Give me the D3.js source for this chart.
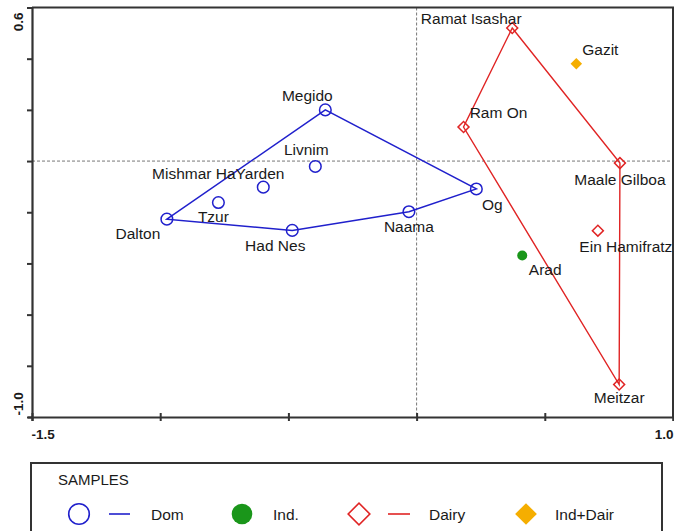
<!DOCTYPE html>
<html>
<head>
<meta charset="utf-8">
<script src="https://cdn.jsdelivr.net/npm/d3@7"></script>
<style>
  html, body { margin: 0; padding: 0; background: #fff; }
  svg { display: block; }
  text { font-family: "Liberation Sans", Arial, sans-serif; fill: #1a1a1a; }
</style>
</head>
<body>
<svg id="chart" width="674" height="531"></svg>
<script>
// Ordination scores (axis 1, axis 2) per sample, by group
const domNames = ["Megido", "Livnim", "Mishmar HaYarden", "Tzur", "Dalton", "Had Nes", "Naama", "Og"];
const domX = [-0.356, -0.395, -0.598, -0.773, -0.974, -0.485, -0.030, 0.233];
const domY = [0.200, -0.021, -0.102, -0.162, -0.227, -0.271, -0.198, -0.109];
const domHull = ["Dalton", "Megido", "Og", "Naama", "Had Nes"];

const dairyNames = ["Ramat Isashar", "Ram On", "Maale Gilboa", "Ein Hamifratz", "Meitzar"];
const dairyX = [0.373, 0.183, 0.793, 0.707, 0.790];
const dairyY = [0.520, 0.133, -0.008, -0.272, -0.873];
const dairyHull = ["Ramat Isashar", "Maale Gilboa", "Meitzar", "Ram On"];

const indNames = ["Arad"];
const indX = [0.412];
const indY = [-0.369];

const indDairNames = ["Gazit"];
const indDairX = [0.623];
const indDairY = [0.380];

const xTicks = [-1.5, -1.0, -0.5, 0, 0.5, 1.0];
const yTicks = [0.6, 0.4, 0.2, 0, -0.2, -0.4, -0.6, -0.8, -1.0];
const xTickLabels = ["-1.5", "", "", "", "", "1.0"];
const yTickLabels = ["0.6", "", "", "", "", "", "", "", "-1.0"];

const legendTitle = "SAMPLES";
const legendLabels = ["Dom", "Ind.", "Dairy", "Ind+Dair"];

// ---- layout / styling ----
const colors = { dom: "#2020cc", ind: "#1a961a", dairy: "#e02424", indDair: "#f5ae00" };
const labelOffsets = {
  "Megido": [-18, -9], "Livnim": [-9, -11], "Mishmar HaYarden": [-45, -8],
  "Tzur": [-5, 19], "Dalton": [-29, 20], "Had Nes": [-17, 21], "Naama": [0, 20],
  "Og": [16, 21], "Ramat Isashar": [-41, -4], "Gazit": [24, -9], "Ram On": [35, -9],
  "Maale Gilboa": [0, 22], "Ein Hamifratz": [28, 21], "Arad": [23, 19], "Meitzar": [0, 19]
};

const svg = d3.select("#chart");
const plotLeft = 32, plotRight = 673, plotTop = 7.5, plotBottom = 417;
const x = d3.scaleLinear().domain([-1.5, 1.0]).range([plotLeft, plotRight]);
const y = d3.scaleLinear().domain([-1.0, 0.6]).range([plotBottom, plotTop]);

const zip = (names, xs, ys) => names.map((n, i) => ({ name: n, x: xs[i], y: ys[i] }));
const dom = zip(domNames, domX, domY);
const dairy = zip(dairyNames, dairyX, dairyY);
const ind = zip(indNames, indX, indY);
const indDair = zip(indDairNames, indDairX, indDairY);

// zero reference lines
svg.append("line").attr("x1", x(0)).attr("x2", x(0)).attr("y1", plotTop).attr("y2", plotBottom)
  .attr("stroke", "#777").attr("stroke-width", 1).attr("stroke-dasharray", "3,2");
svg.append("line").attr("x1", plotLeft).attr("x2", plotRight).attr("y1", y(0)).attr("y2", y(0))
  .attr("stroke", "#777").attr("stroke-width", 1).attr("stroke-dasharray", "3,2");

// frame (top and right)
svg.append("path")
  .attr("d", `M${plotLeft},${plotTop} L${plotRight},${plotTop} L${plotRight},${plotBottom}`)
  .attr("fill", "none").attr("stroke", "#333").attr("stroke-width", 2);

// axes
const xAxis = d3.axisBottom(x).tickValues(xTicks).tickSize(4)
  .tickFormat((d, i) => xTickLabels[i]);
const gx = svg.append("g").attr("transform", `translate(0,${plotBottom})`).call(xAxis);
gx.select(".domain").attr("stroke", "#333").attr("stroke-width", 2.2);
gx.selectAll(".tick line").attr("stroke", "#333").attr("stroke-width", 2).attr("y1", -4);
gx.selectAll(".tick text")
  .attr("font-family", "Liberation Sans, Arial, sans-serif")
  .attr("font-size", 13.5).attr("font-weight", "bold").attr("fill", "#1a1a1a")
  .attr("y", 12).attr("dy", "0.71em")
  .attr("text-anchor", (d, i) => i === 0 ? "start" : "end")
  .attr("dx", (d, i) => i === 0 ? -1 : 0);

const yAxis = d3.axisLeft(y).tickValues(yTicks).tickSize(4)
  .tickFormat((d, i) => yTickLabels[i]);
const gy = svg.append("g").attr("transform", `translate(${plotLeft},0)`).call(yAxis);
gy.select(".domain").attr("stroke", "#333").attr("stroke-width", 2.2);
gy.selectAll(".tick line").attr("stroke", "#333").attr("stroke-width", 2).attr("x2", -5).attr("x1", 1);
gy.selectAll(".tick text")
  .attr("font-family", "Liberation Sans, Arial, sans-serif")
  .attr("font-size", 13.5).attr("font-weight", "bold").attr("fill", "#1a1a1a")
  .attr("dy", null).attr("x", 0).attr("y", 0)
  .attr("text-anchor", (d, i) => i === 0 ? "end" : "start")
  // each tick group is already placed at its value; nudge the end labels inward
  .attr("transform", (d, i) => `translate(-9,${i === 0 ? 4.5 : -2}) rotate(-90)`);

// hull outlines
const line = d3.line().x(d => x(d.x)).y(d => y(d.y)).curve(d3.curveLinearClosed);
const byName = arr => name => arr.find(d => d.name === name);
svg.append("path").datum(domHull.map(byName(dom)))
  .attr("d", line).attr("fill", "none").attr("stroke", colors.dom).attr("stroke-width", 1.5);
svg.append("path").datum(dairyHull.map(byName(dairy)))
  .attr("d", line).attr("fill", "none").attr("stroke", colors.dairy).attr("stroke-width", 1.4);

// markers
const diamond = size => d3.symbol().type(d3.symbolSquare).size(size)();
svg.selectAll("circle.dom").data(dom).join("circle")
  .attr("cx", d => x(d.x)).attr("cy", d => y(d.y)).attr("r", 5.8)
  .attr("fill", "none").attr("stroke", colors.dom).attr("stroke-width", 1.5);
svg.selectAll("path.dairy").data(dairy).join("path")
  .attr("d", diamond(60))
  .attr("transform", d => `translate(${x(d.x)},${y(d.y)}) rotate(45)`)
  .attr("fill", "none").attr("stroke", colors.dairy).attr("stroke-width", 1.5);
svg.selectAll("circle.ind").data(ind).join("circle")
  .attr("cx", d => x(d.x)).attr("cy", d => y(d.y)).attr("r", 5)
  .attr("fill", colors.ind);
svg.selectAll("path.inddair").data(indDair).join("path")
  .attr("d", diamond(66))
  .attr("transform", d => `translate(${x(d.x)},${y(d.y)}) rotate(45)`)
  .attr("fill", colors.indDair);

// sample labels
const allPts = dom.concat(dairy, ind, indDair);
svg.selectAll("text.lbl").data(allPts).join("text")
  .attr("x", d => x(d.x) + labelOffsets[d.name][0])
  .attr("y", d => y(d.y) + labelOffsets[d.name][1])
  .attr("text-anchor", "middle")
  .attr("font-size", 15.5)
  .text(d => d.name);

// legend
const lg = svg.append("g");
lg.append("rect").attr("x", 31).attr("y", 463).attr("width", 631).attr("height", 90)
  .attr("fill", "none").attr("stroke", "#333").attr("stroke-width", 2);
lg.append("text").attr("x", 58).attr("y", 485).attr("font-size", 15).text(legendTitle);
const ly = 514;
lg.append("circle").attr("cx", 79).attr("cy", ly).attr("r", 10.3)
  .attr("fill", "none").attr("stroke", colors.dom).attr("stroke-width", 1.6);
lg.append("line").attr("x1", 109).attr("x2", 130).attr("y1", ly).attr("y2", ly)
  .attr("stroke", colors.dom).attr("stroke-width", 1.6);
lg.append("circle").attr("cx", 242).attr("cy", ly).attr("r", 10.3).attr("fill", colors.ind);
lg.append("path").attr("d", diamond(236)).attr("transform", `translate(359,${ly}) rotate(45)`)
  .attr("fill", "none").attr("stroke", colors.dairy).attr("stroke-width", 1.6);
lg.append("line").attr("x1", 388).attr("x2", 410).attr("y1", ly).attr("y2", ly)
  .attr("stroke", colors.dairy).attr("stroke-width", 1.6);
lg.append("path").attr("d", diamond(236)).attr("transform", `translate(526,${ly}) rotate(45)`)
  .attr("fill", colors.indDair);
const legendTextX = [151, 273, 429, 555];
lg.selectAll("text.item").data(legendLabels).join("text")
  .attr("x", (d, i) => legendTextX[i]).attr("y", ly + 6)
  .attr("font-size", 15.5).text(d => d);
</script>
</body>
</html>
